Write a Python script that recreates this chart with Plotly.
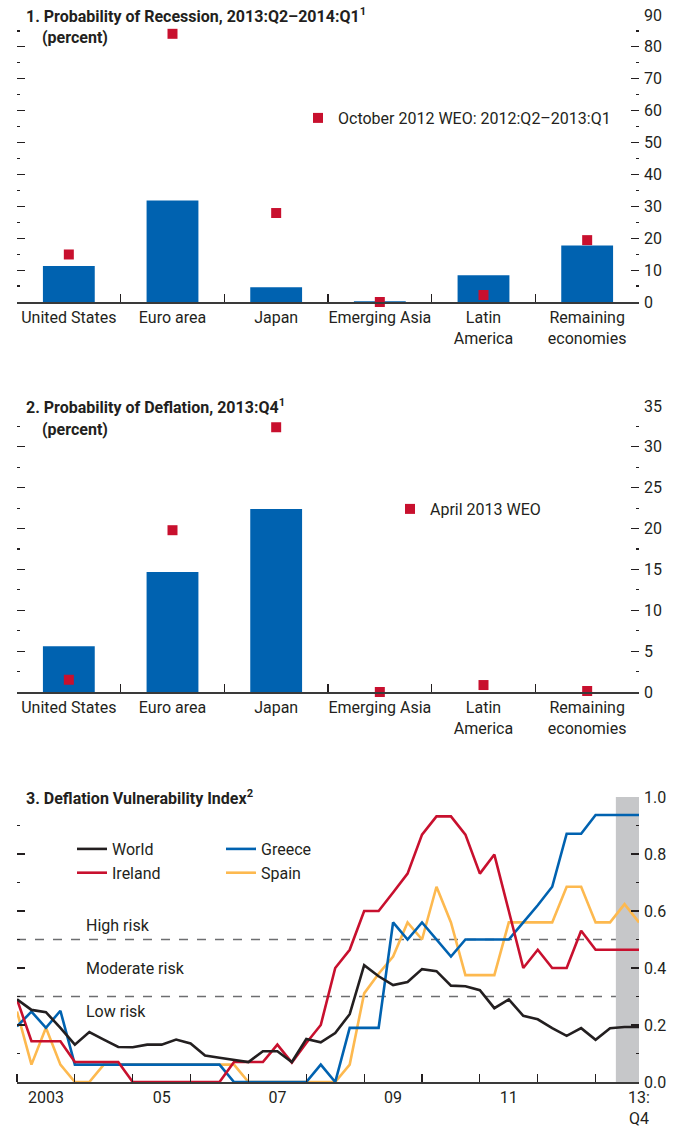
import plotly.graph_objects as go

# ---------------- data ----------------
regions = ["United States", "Euro area", "Japan", "Emerging Asia",
           "Latin<br>America", "Remaining<br>economies"]
recession_prob = [11.3, 31.8, 4.6, 0.2, 8.4, 17.7]
recession_oct2012 = [14.9, 84.1, 27.9, 0.0, 2.2, 19.4]
deflation_prob = [5.6, 14.7, 22.4, 0.0, 0.0, 0.0]
deflation_apr2013 = [1.5, 19.8, 32.4, 0.0, 0.85, 0.12]

quarters = [f"{y}:Q{q}" for y in range(2003, 2014) for q in range(1, 5)]
world = [0.29, 0.253, 0.245, 0.19, 0.131, 0.175, 0.149, 0.123, 0.122, 0.131,
         0.131, 0.149, 0.135, 0.093, 0.085, 0.078, 0.07, 0.108, 0.108, 0.07,
         0.151, 0.139, 0.172, 0.238, 0.41, 0.371, 0.34, 0.351, 0.396, 0.389,
         0.338, 0.336, 0.322, 0.259, 0.29, 0.232, 0.22, 0.189, 0.162, 0.189,
         0.148, 0.189, 0.193, 0.193]
ireland = [0.29, 0.143, 0.143, 0.143, 0.07, 0.07, 0.07, 0.07, 0, 0,
           0, 0, 0, 0, 0, 0.07, 0.07, 0.07, 0.131, 0.068,
           0.137, 0.2, 0.4, 0.464, 0.6, 0.6, 0.665, 0.731, 0.868, 0.932,
           0.932, 0.868, 0.731, 0.798, 0.6, 0.4, 0.464, 0.4, 0.4, 0.531,
           0.464, 0.464, 0.464, 0.464]
greece = [0.195, 0.247, 0.19, 0.25, 0.061, 0.061, 0.061, 0.061, 0.061, 0.061,
          0.061, 0.061, 0.061, 0.061, 0.061, 0, 0, 0, 0, 0,
          0, 0.061, 0, 0.19, 0.19, 0.19, 0.56, 0.5, 0.56, 0.5,
          0.44, 0.5, 0.5, 0.5, 0.5, 0.56, 0.62, 0.685, 0.871, 0.871,
          0.937, 0.937, 0.937, 0.937]
spain = [0.247, 0.061, 0.19, 0.061, 0, 0, 0.061, 0.061, 0.061, 0.061,
         0.061, 0.061, 0.061, 0.061, 0.061, 0.061, 0, 0, 0, 0,
         0, 0, 0, 0.061, 0.311, 0.38, 0.44, 0.56, 0.5, 0.685,
         0.56, 0.375, 0.375, 0.375, 0.56, 0.56, 0.56, 0.56, 0.685, 0.685,
         0.56, 0.56, 0.624, 0.56]
year_labels = ["2003", "05", "07", "09", "11", "13:<br>Q4"]
risk_bands = [("High risk", 0.55), ("Moderate risk", 0.397), ("Low risk", 0.247)]
risk_thresholds = [0.5, 0.3]

# ---------------- styling ----------------
W, H = 683, 1131
FONT = "Roboto, Liberation Sans, sans-serif"
TXT = "#231f20"
BLUE = "#0062b0"
RED = "#c8102e"
YELLOW = "#fdb94f"
BLACK = "#231f20"
FS = 16
TFS = 16

def qnum(q):
    y, qq = q.split(":Q")
    return int(y) + (int(qq) - 1) / 4

qx = [qnum(q) for q in quarters]

def px(x):
    return x / W

def py(y):
    return 1 - y / H

XDOM = [px(17), px(639)]
YDOM = {1: [py(302), py(15)], 2: [py(692), py(406)], 3: [py(1082), py(797)]}

fig = go.Figure()

# Panel 1
fig.add_trace(go.Bar(x=regions, y=recession_prob, marker_color=BLUE, width=0.5,
                     marker_line_width=0, showlegend=False, xaxis="x", yaxis="y"))
fig.add_trace(go.Scatter(x=regions, y=recession_oct2012, mode="markers",
                         marker=dict(symbol="square", size=10, color=RED),
                         name="October 2012 WEO: 2012:Q2\u20132013:Q1",
                         cliponaxis=False, legend="legend", xaxis="x", yaxis="y"))
# Panel 2
fig.add_trace(go.Bar(x=regions, y=deflation_prob, marker_color=BLUE, width=0.5,
                     marker_line_width=0, showlegend=False, xaxis="x2", yaxis="y2"))
fig.add_trace(go.Scatter(x=regions, y=deflation_apr2013, mode="markers",
                         marker=dict(symbol="square", size=10, color=RED),
                         name="April 2013 WEO", cliponaxis=False,
                         legend="legend2", xaxis="x2", yaxis="y2"))
# Panel 3
lw = 2.6
fig.add_trace(go.Scatter(x=qx, y=spain, mode="lines", name="Spain",
                         line=dict(color=YELLOW, width=lw), legend="legend4",
                         legendrank=2, xaxis="x3", yaxis="y3", cliponaxis=False))
fig.add_trace(go.Scatter(x=qx, y=greece, mode="lines", name="Greece",
                         line=dict(color=BLUE, width=lw), legend="legend4",
                         legendrank=1, xaxis="x3", yaxis="y3", cliponaxis=False))
fig.add_trace(go.Scatter(x=qx, y=ireland, mode="lines", name="Ireland",
                         line=dict(color=RED, width=lw), legend="legend3",
                         legendrank=2, xaxis="x3", yaxis="y3", cliponaxis=False))
fig.add_trace(go.Scatter(x=qx, y=world, mode="lines", name="World",
                         line=dict(color=BLACK, width=lw), legend="legend3",
                         legendrank=1, xaxis="x3", yaxis="y3", cliponaxis=False))

tickfont = dict(family=FONT, size=FS, color=TXT)

def yax(dom, rng, dtick, minor, fmt=None):
    d = dict(domain=dom, range=rng, side="right", showgrid=False, automargin=False,
             zeroline=False, ticks="inside", ticklen=8, tickwidth=1.2,
             tickcolor=TXT, mirror="ticks", dtick=dtick, tick0=0,
             tickfont=tickfont, ticklabelstandoff=4, showline=False,
             ticklabeloverflow="allow",
             minor=dict(dtick=minor, tick0=0, ticks="inside", ticklen=3,
                        tickwidth=1.2, tickcolor=TXT, showgrid=False),
             fixedrange=True)
    if fmt:
        d["tickformat"] = fmt
    return d

def xcat():
    return dict(domain=XDOM, type="category", tickson="boundaries",
                ticks="inside", ticklen=8, tickwidth=1.2, tickcolor=TXT,
                showline=True, linecolor="#3a3a3a", linewidth=1.5, automargin=False,
                showgrid=False, zeroline=False, tickfont=tickfont, tickangle=0,
                range=[-0.5, 5.5], fixedrange=True, ticklabeloverflow="allow")

layout = dict(
    template="none",
    width=W, height=H, margin=dict(l=0, r=0, t=0, b=0, autoexpand=False),
    plot_bgcolor="white", paper_bgcolor="white",
    font=dict(family=FONT, size=FS, color=TXT),
    xaxis=dict(xcat(), anchor="y"),
    xaxis2=dict(xcat(), anchor="y2"),
    yaxis=dict(yax(YDOM[1], [0, 90], 10, 5), anchor="x"),
    yaxis2=dict(yax(YDOM[2], [0, 35], 5, 2.5), anchor="x2"),
    xaxis3=dict(domain=XDOM, anchor="y3", range=[qx[0], qx[-1]], automargin=False,
                tickmode="array", tickvals=[2003.5, 2005.5, 2007.5, 2009.5, 2011.5, qx[-1]],
                ticktext=year_labels, ticks="", tickfont=tickfont, tickangle=0,
                showline=True, linecolor="#3a3a3a", linewidth=1.5,
                showgrid=False, zeroline=False, fixedrange=True,
                ticklabeloverflow="allow",
                minor=dict(tickmode="array", tickvals=list(range(2003, 2014)),
                           ticks="inside", ticklen=8, tickwidth=1.2, tickcolor=TXT,
                           showgrid=False)),
    yaxis3=dict(yax(YDOM[3], [0, 1], 0.2, 0.1, ".1f"), anchor="x3"),
    showlegend=True,
)

def leg(x, y):
    return dict(x=x, y=y, xanchor="left", yanchor="middle", xref="paper", yref="paper",
                bgcolor="rgba(0,0,0,0)", borderwidth=0,
                font=dict(family=FONT, size=FS, color=TXT),
                orientation="v", itemclick=False, itemdoubleclick=False,
                tracegroupgap=0, itemwidth=30)

layout["legend"] = leg(px(298), py(118))
layout["legend2"] = leg(px(390), py(509))
layout["legend3"] = leg(px(72), py(861))
layout["legend4"] = leg(px(221), py(861))

fig.update_layout(**layout)

# Titles
titles = [
    ("1. Probability of Recession, 2013:Q2\u20132014:Q1<sup>1</sup>", 15, True),
    ("2. Probability of Deflation, 2013:Q4<sup>1</sup>", 406, True),
    ("3. Deflation Vulnerability Index<sup>2</sup>", 797, False),
]
for text, ypx, pct in titles:
    fig.add_annotation(text=f"<b>{text}</b>", xref="paper", yref="paper",
                       x=px(24), y=py(ypx), xanchor="left", yanchor="middle",
                       showarrow=False, font=dict(family=FONT, size=TFS, color=TXT))
    if pct:
        fig.add_annotation(text="<b>(percent)</b>", xref="paper", yref="paper",
                           x=px(40), y=py(ypx + 23), xanchor="left", yanchor="middle",
                           showarrow=False, font=dict(family=FONT, size=TFS, color=TXT))

# Risk thresholds and labels
for t in risk_thresholds:
    fig.add_shape(type="line", xref="x3 domain", yref="y3", x0=0, x1=1, y0=t, y1=t,
                  line=dict(color="#6d6e70", width=1.3, dash="dash"), layer="below")
for label, yv in risk_bands:
    fig.add_annotation(text=label, xref="x3 domain", yref="y3", x=0.108, y=yv,
                       xanchor="left", yanchor="middle", showarrow=False,
                       font=dict(family=FONT, size=FS, color=TXT))

# Projection shading
fig.add_shape(type="rect", xref="x3", yref="y3 domain", x0=2013.35, x1=qx[-1],
              y0=0, y1=1, fillcolor="#c6c7c9", line=dict(width=0), layer="below")

fig.write_html("out.html", config={"displayModeBar": False, "staticPlot": True},
               post_script="document.body.style.margin='0';document.body.style.padding='0';")
